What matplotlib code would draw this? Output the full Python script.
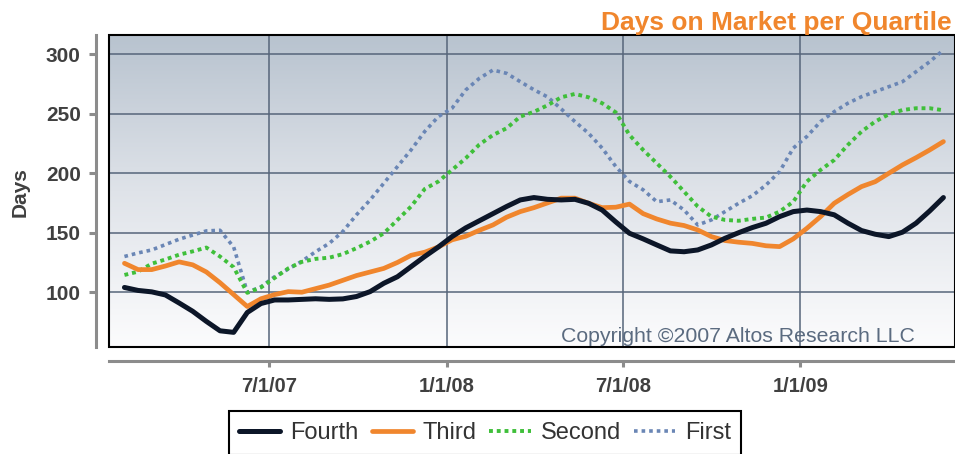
import numpy as np
import pandas as pd
import matplotlib
matplotlib.use('Agg')
import matplotlib.pyplot as plt
from matplotlib.colors import LinearSegmentedColormap
from matplotlib.patches import Rectangle

plt.rcParams['font.family'] = ['Liberation Sans', 'DejaVu Sans']

# ---------------- data ----------------
start_date = '2007-02-01'
end_date = '2009-05-29'
n_points = 61

fourth = [104, 101.5, 100.3, 97.7, 91, 84, 75.5, 67.6, 66.3, 83,
          90.5, 93.5, 93.5, 94, 94.5, 94, 94.4, 96.4, 100.5, 107.5,
          113, 121.5, 130, 138, 146.7, 154, 160, 166, 172, 177.5,
          179.5, 178, 177.5, 178, 174.7, 169, 159, 149.5, 144.8, 139.7,
          134.7, 134, 135.5, 139.7, 145.3, 150, 154.3, 157.9, 163.5, 167.7,
          169, 167.7, 165, 158, 151.8, 148.7, 146.7, 150.4, 158, 168.3,
          179.5]
third = [124.3, 119, 119, 122, 125.5, 123, 117, 108, 98, 88,
         94.5, 98, 100.5, 100, 103, 106, 110, 114, 117, 120,
         125, 131, 133.6, 138, 144, 147, 152, 156.5, 163, 167.7,
         171, 175, 179, 179, 174.7, 171, 171.4, 174, 166, 161.5,
         158, 156, 152.3, 146.7, 143.4, 142, 141, 139, 138.3, 144.8,
         153.7, 163.5, 174.7, 182, 188.7, 192.8, 199.9, 206.9, 213, 219.5,
         226.5]
second = [114.5, 117.3, 124, 127.5, 131.5, 134.3, 137.5, 130, 121, 99.5,
          104, 112, 120, 125.5, 128, 129, 132, 137, 142.5, 149.5,
          160.7, 172, 186.7, 193, 202.7, 212.5, 224, 232, 237.7, 247.5,
          251.5, 257, 263.7, 266.5, 263.7, 258.7, 251, 232, 219.5, 208.3,
          197, 184.5, 172, 163.5, 160.7, 160, 161.6, 162.7, 167.7, 176,
          193, 202.7, 211, 223.7, 234.9, 243.3, 249.4, 253, 254.5, 254.5,
          252.8]
first = [130, 133, 135.5, 140, 144.5, 148, 151.5, 152, 138, 100,
         104.5, 113, 119.5, 126, 134, 141, 151, 165, 177.5, 191.5,
         205.5, 219.5, 235, 247.5, 254.5, 269.8, 279.6, 286.6, 283.8, 276.8,
         270, 264, 253.9, 243.3, 233.5, 221, 205.5, 193, 186, 176,
         177.5, 169, 156.5, 160.7, 167.7, 174.7, 181, 190, 201.3, 221,
         230.8, 243.3, 251.6, 258.7, 264.2, 268.4, 272.6, 276.8, 285.2, 293.6,
         303.4]

series_names = ['Fourth', 'Third', 'Second', 'First']
x_tick_dates = ['2007-07-01', '2008-01-01', '2008-07-01', '2009-01-01']
x_tick_labels = ['7/1/07', '1/1/08', '7/1/08', '1/1/09']
y_ticks = [100, 150, 200, 250, 300]

title = 'Days on Market per Quartile'
y_label = 'Days'
copyright_text = 'Copyright \u00a92007 Altos Research LLC'

# ---------------- figure ----------------
W, H = 955, 454
fig = plt.figure(figsize=(W / 100, H / 100), dpi=100)
fig.patch.set_facecolor('white')

ax_left, ax_right, ax_top, ax_bottom = 109, 955, 35, 347
ax = fig.add_axes([ax_left / W, 1 - ax_bottom / H,
                   (ax_right - ax_left) / W, (ax_bottom - ax_top) / H])
ax.set_facecolor('white')

# gradient background
grad_cmap = LinearSegmentedColormap.from_list('bg', ['#fcfcfd', '#dfe3e9', '#b8c3cf'])
ax.imshow(np.linspace(0, 1, 256).reshape(-1, 1), extent=[0, 1, 0, 1],
          transform=ax.transAxes, cmap=grad_cmap, origin='lower',
          aspect='auto', zorder=0, interpolation='bilinear')

dates = pd.date_range(start_date, end_date, periods=n_points)

styles = {
    'First': dict(color='#6a86b5', lw=2.6, linestyle=(0, (1, 1.1))),
    'Second': dict(color='#3fbf3a', lw=2.8, linestyle=(0, (1, 1.0))),
    'Third': dict(color='#f0862d', lw=3.4, linestyle='-', solid_joinstyle='round',
                  solid_capstyle='round'),
    'Fourth': dict(color='#0c1628', lw=3.6, linestyle='-', solid_joinstyle='round',
                   solid_capstyle='round'),
}
values = {'Fourth': fourth, 'Third': third, 'Second': second, 'First': first}

handles = {}
for name in ['First', 'Second', 'Third', 'Fourth']:
    (h,) = ax.plot(dates, values[name], label=name, zorder=3, **styles[name])
    handles[name] = h

ax.set_xlim(pd.Timestamp('2007-01-16'), pd.Timestamp('2009-06-10'))
ax.set_ylim(54, 316)

ax.set_yticks(y_ticks)
ax.set_yticklabels([str(v) for v in y_ticks])
ax.set_xticks(pd.to_datetime(x_tick_dates))
ax.set_xticklabels(x_tick_labels)

ax.grid(True, color='#56657a', lw=1.1)

for s in ['top', 'right']:
    ax.spines[s].set_visible(False)
ax.spines['left'].set_position(('outward', 9.4))
ax.spines['bottom'].set_position(('outward', 10.1))
for s in ['left', 'bottom']:
    ax.spines[s].set_color('#8c8c8c')
    ax.spines[s].set_linewidth(2.2)

ax.tick_params(axis='y', direction='out', length=5, width=2.2, color='#8c8c8c',
               pad=6.0, labelsize=15, labelcolor='#404040')
ax.tick_params(axis='x', direction='out', length=4.5, width=2.2, color='#8c8c8c',
               pad=7.0, labelsize=14.5, labelcolor='#404040')
for lbl in ax.get_xticklabels() + ax.get_yticklabels():
    lbl.set_fontweight('bold')

# black frame around plotting area
ax.add_patch(Rectangle((0, 0), 1, 1, transform=ax.transAxes, fill=False,
                       ec='black', lw=1.5, clip_on=False, zorder=6))

fig.text(20 / W, 1 - 192 / H, y_label, rotation=90, ha='center', va='center',
         fontsize=15, fontweight='bold', color='#404040')

fig.text(952 / W, 1 - 30 / H, title, ha='right', va='baseline',
         fontsize=19, fontweight='bold', color='#f0862d')

fig.text(915 / W, 1 - 341.5 / H, copyright_text, ha='right', va='baseline',
         fontsize=15.3, color='#5b6b80', zorder=7)

leg = fig.legend([handles[n] for n in series_names], series_names,
                 loc='center', bbox_to_anchor=(485 / W, 1 - 433 / H),
                 ncol=4, fontsize=17, frameon=True, fancybox=False,
                 edgecolor='black', facecolor='white', framealpha=1,
                 handlelength=1.74, handletextpad=0.42, columnspacing=0.55,
                 borderpad=0.45, borderaxespad=0)
leg.get_frame().set_linewidth(1.5)
for t in leg.get_texts():
    t.set_color('#333333')

fig.savefig('out.png', dpi=100, facecolor='white')
